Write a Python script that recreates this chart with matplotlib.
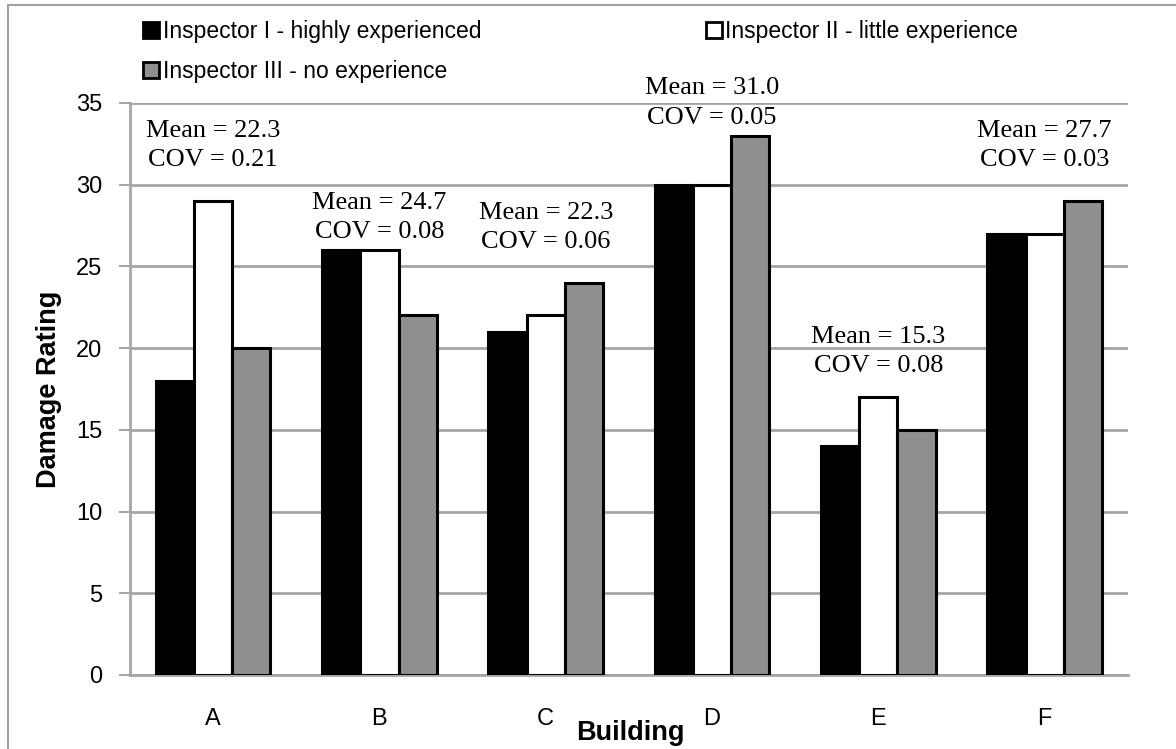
import numpy as np
import matplotlib
matplotlib.use('Agg')
from matplotlib import pyplot as plt
from matplotlib.patches import Rectangle

buildings = ['A', 'B', 'C', 'D', 'E', 'F']
inspector_1 = [18, 26, 21, 30, 14, 27]
inspector_2 = [29, 26, 22, 30, 17, 27]
inspector_3 = [20, 22, 24, 33, 15, 29]
series_names = ['Inspector I - highly experienced',
                'Inspector II - little experience',
                'Inspector III - no experience']
means = ['22.3', '24.7', '22.3', '31.0', '15.3', '27.7']
covs = ['0.21', '0.08', '0.06', '0.05', '0.08', '0.03']
label_y = [32.4, 28.0, 27.4, 35.0, 19.8, 32.4]

plt.rcParams['font.family'] = 'Liberation Sans'
grid_col = '#a6a6a6'

fig = plt.figure(figsize=(11.76, 7.49), dpi=100)
ax = fig.add_axes([0.1105, 0.0988, 0.8485, 0.7637])

x = np.arange(len(buildings))
w = 0.23
b1 = ax.bar(x - w, inspector_1, w, color='black', edgecolor='black', linewidth=2.2, zorder=3)
b2 = ax.bar(x, inspector_2, w, color='white', edgecolor='black', linewidth=2.2, zorder=3)
b3 = ax.bar(x + w, inspector_3, w, color='#8f8f8f', edgecolor='black', linewidth=2.2, zorder=3)

for i in range(len(buildings)):
    ax.text(x[i], label_y[i], 'Mean = %s\nCOV = %s' % (means[i], covs[i]),
            ha='center', va='center', fontsize=19, family='Liberation Serif',
            linespacing=1.42, clip_on=False, zorder=4)

ax.set_xlim(-0.5, 5.5)
ax.set_ylim(0, 35)
ax.set_yticks(range(0, 36, 5))
ax.set_xticks(x)
ax.set_xticklabels(buildings)
ax.tick_params(axis='x', length=0, pad=24, labelsize=17)
ax.tick_params(axis='y', length=8, width=1.5, color=grid_col, pad=12, labelsize=17)
ax.yaxis.grid(True, color=grid_col, linewidth=2, zorder=0)
ax.set_axisbelow(True)
for s in ['top', 'right']:
    ax.spines[s].set_visible(False)
ax.spines['left'].set_color(grid_col)
ax.spines['left'].set_linewidth(2)
ax.spines['bottom'].set_color(grid_col)
ax.spines['bottom'].set_linewidth(2)
ax.set_ylabel('Damage Rating', fontsize=19.5, fontweight='bold', labelpad=10)
fig.text(0.536, 0.022, 'Building', ha='center', va='center', fontsize=19.5, fontweight='bold')

# row-major order for the 2-column legend
leg = fig.legend([b1, b3, b2], [series_names[0], series_names[2], series_names[1]],
                 ncol=2, loc='upper left', bbox_to_anchor=(0.114, 0.985),
                 frameon=False, fontsize=16.5, handlelength=0.7, handleheight=0.7,
                 handletextpad=0.15, columnspacing=9.8, labelspacing=0.72, borderaxespad=0)
for h in leg.legend_handles:
    h.set_linewidth(2)

fig.patches.append(Rectangle((8 / 1176, -0.1), 1.2, 1 - 5 / 749 + 0.1, transform=fig.transFigure,
                             fill=False, edgecolor='#a0a0a0', linewidth=1.5))

fig.savefig('out.png', dpi=100)
